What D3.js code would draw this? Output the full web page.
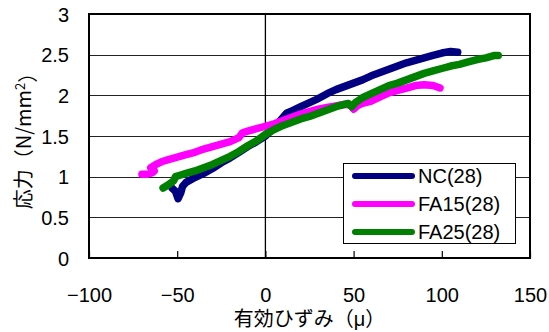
<!DOCTYPE html>
<html>
<head>
<meta charset="utf-8">
<script src="https://cdn.jsdelivr.net/npm/d3@7"></script>
<style>
  body { margin: 0; background: #fff; }
  svg { display: block; }
  text { font-family: "Liberation Sans", Arial, "Noto Sans CJK JP", sans-serif; fill: #000; }
</style>
</head>
<body>
<svg id="chart" width="549" height="332"></svg>
<script>
// ---- data ----
const seriesNames = ["NC(28)", "FA15(28)", "FA25(28)"];
const seriesColors = ["#000080", "#FF00FF", "#008000"];

const ncData = [
  [-53,0.86],[-51,0.82],[-49.5,0.73],[-48,0.8],[-47,0.88],[-45,0.93],[-40,0.99],[-35,1.04],
  [-30,1.1],[-25,1.17],[-20,1.23],[-15,1.3],[-10,1.37],[-5,1.43],[0,1.5],[5,1.6],[8,1.68],
  [12,1.78],[15,1.81],[20,1.86],[25,1.91],[30,1.96],[35,2.02],[40,2.07],[45,2.11],[50,2.15],
  [55,2.19],[60,2.24],[65,2.28],[70,2.32],[75,2.36],[80,2.4],[85,2.43],[90,2.46],[95,2.49],
  [100,2.52],[105,2.54],[109,2.53]
];
const fa15Data = [
  [-70,1.03],[-67,1.03],[-64,1.05],[-63,1.07],[-65,1.11],[-62,1.15],[-58,1.19],[-55,1.21],
  [-50,1.24],[-45,1.27],[-40,1.3],[-35,1.34],[-30,1.37],[-25,1.4],[-20,1.43],[-15,1.48],
  [-13,1.54],[-10,1.56],[-5,1.59],[0,1.62],[5,1.65],[10,1.69],[15,1.73],[20,1.77],[25,1.8],
  [30,1.83],[35,1.85],[40,1.87],[45,1.89],[48,1.88],[50,1.83],[52,1.87],[55,1.9],[60,1.93],
  [65,1.98],[70,2.03],[75,2.06],[80,2.09],[85,2.12],[90,2.13],[95,2.12],[99,2.09]
];
const fa25Data = [
  [-58,0.86],[-55,0.9],[-52,0.95],[-51,1.0],[-48,1.02],[-45,1.04],[-40,1.07],[-35,1.11],
  [-30,1.15],[-25,1.2],[-20,1.25],[-15,1.31],[-10,1.38],[-5,1.44],[0,1.52],[5,1.58],[10,1.63],
  [15,1.67],[20,1.71],[25,1.74],[30,1.78],[35,1.82],[40,1.86],[45,1.89],[47,1.9],[49,1.86],
  [51,1.91],[55,1.97],[60,2.02],[65,2.07],[70,2.12],[75,2.15],[80,2.19],[85,2.23],[90,2.27],
  [95,2.3],[100,2.33],[105,2.36],[110,2.38],[115,2.41],[120,2.44],[125,2.46],[130,2.49],[132,2.49]
];
const xTicks = [-100, -50, 0, 50, 100, 150];
const yTicks = [0, 0.5, 1, 1.5, 2, 2.5, 3];
const xTitle = "有効ひずみ（μ）";
const yTitleMain = "応力（N/mm";
const yTitleSup = "2";
const yTitleEnd = "）";

// ---- layout ----
const plot = { left: 89, right: 530, top: 14, bottom: 258 };
const svg = d3.select("#chart");

const x = d3.scaleLinear().domain([-100, 150]).range([plot.left, plot.right]);
const y = d3.scaleLinear().domain([0, 3]).range([plot.bottom, plot.top]);

// gridlines
svg.append("g").selectAll("line").data(yTicks.slice(1, -1)).join("line")
  .attr("x1", plot.left).attr("x2", plot.right)
  .attr("y1", d => Math.round(y(d)) + 0.5).attr("y2", d => Math.round(y(d)) + 0.5)
  .attr("stroke", "#222").attr("stroke-width", 1.2);

// vertical axis line at x = 0
svg.append("line")
  .attr("x1", x(0)).attr("x2", x(0)).attr("y1", plot.top).attr("y2", plot.bottom)
  .attr("stroke", "#000").attr("stroke-width", 1.3);

// x ticks (inside, upward)
const xAxis = d3.axisBottom(x).tickValues(xTicks).tickSizeInner(-7).tickSizeOuter(0)
  .tickFormat(d => (d < 0 ? "\u2212" + Math.abs(d) : String(d)));
const gx = svg.append("g").attr("transform", `translate(0,${plot.bottom})`).call(xAxis);
gx.select(".domain").remove();
gx.selectAll(".tick line").attr("stroke", "#000").attr("stroke-width", 1.2);
gx.selectAll(".tick text").attr("y", 44).attr("dy", 0)
  .style("font-size", "20px").style("font-family", '"Liberation Sans", Arial, sans-serif');

// y tick labels
const yAxis = d3.axisLeft(y).tickValues(yTicks).tickSize(0).tickPadding(0)
  .tickFormat(d => String(d));
const gy = svg.append("g").attr("transform", `translate(${plot.left - 20},0)`).call(yAxis);
gy.select(".domain").remove();
gy.selectAll(".tick text").attr("dy", "0.36em")
  .style("font-size", "20px").style("font-family", '"Liberation Sans", Arial, sans-serif');

// series
const line = d3.line().x(d => x(d[0])).y(d => y(d[1]));
const allSeries = [ncData, fa15Data, fa25Data];
svg.append("g").selectAll("path").data(allSeries).join("path")
  .attr("d", line)
  .attr("fill", "none")
  .attr("stroke", (d, i) => seriesColors[i])
  .attr("stroke-width", 7.5)
  .attr("stroke-linejoin", "round")
  .attr("stroke-linecap", "round");

// plot border
svg.append("rect")
  .attr("x", plot.left).attr("y", plot.top)
  .attr("width", plot.right - plot.left).attr("height", plot.bottom - plot.top)
  .attr("fill", "none").attr("stroke", "#000").attr("stroke-width", 2);

// legend
const lg = svg.append("g").attr("transform", "translate(343,163)");
lg.append("rect").attr("x", 0.5).attr("y", 0.5).attr("width", 172).attr("height", 80)
  .attr("fill", "#fff").attr("stroke", "#000").attr("stroke-width", 1);
const rows = lg.selectAll("g.row").data(seriesNames).join("g").attr("class", "row")
  .attr("transform", (d, i) => `translate(0,${13 + i * 28})`);
rows.append("line").attr("x1", 12).attr("x2", 69).attr("y1", 0).attr("y2", 0)
  .attr("stroke", (d, i) => seriesColors[i]).attr("stroke-width", 6).attr("stroke-linecap", "round");
rows.append("text").attr("x", 75).attr("y", 7).text(d => d)
  .style("font-size", "20px");

// axis titles
svg.append("text")
  .attr("x", (plot.left + plot.right) / 2).attr("y", 326)
  .attr("text-anchor", "middle")
  .style("font-size", "20px").style("font-family", '"Liberation Sans", "Noto Sans CJK JP", sans-serif')
  .text(xTitle);

const yt = svg.append("text")
  .attr("transform", `translate(31,${(plot.top + plot.bottom) / 2}) rotate(-90)`)
  .attr("text-anchor", "middle")
  .style("font-size", "20px").style("font-family", '"Noto Sans CJK JP", sans-serif');
yt.append("tspan").text(yTitleMain);
yt.append("tspan").attr("dy", "-0.5em").style("font-size", "13px").text(yTitleSup);
yt.append("tspan").attr("dy", "0.5em").text(yTitleEnd);
</script>
</body>
</html>
